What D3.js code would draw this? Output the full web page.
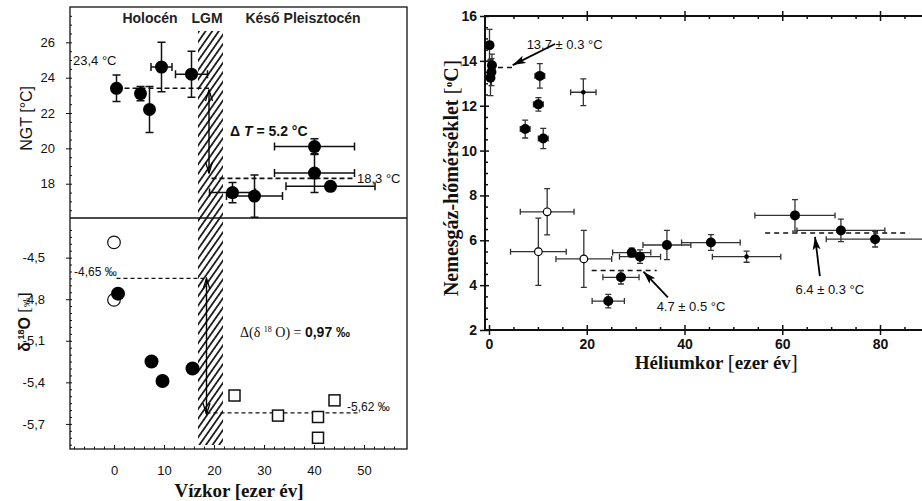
<!DOCTYPE html>
<html>
<head>
<meta charset="utf-8">
<script src="https://cdn.jsdelivr.net/npm/d3@7"></script>
<style>
  body { margin: 0; background: #fff; }
  svg { display: block; }
</style>
</head>
<body>
<svg id="chart" width="922" height="501"></svg>
<script>
// ---- left panel, top: noble gas temperature vs water age
const ngtAge     = [0.5, 5.3, 7.1, 9.5, 15.5, 23.7, 28.1, 40.1, 40.1, 43.3];
const ngtTemp    = [23.4, 23.1, 22.2, 24.6, 24.2, 17.5, 17.3, 20.1, 18.6, 17.85];
const ngtAgeErr  = [0, 0, 0, 2.1, 3.2, 4.6, 5.6, 8, 8, 8.9];
const ngtTempErr = [0.75, 0.4, 1.3, 1.4, 1.3, 0.57, 1.2, 0.45, 1.1, 0.25];
const ngtTicks   = [18, 20, 22, 24, 26];

// ---- left panel, bottom: d18O
const openAge  = [0, 0];
const openD18  = [-4.39, -4.805];
const holoAge  = [0.8, 7.5, 9.7, 15.7];
const holoD18  = [-4.76, -5.25, -5.39, -5.30];
const pleiAge  = [24.1, 32.8, 40.8, 40.8, 44.1];
const pleiD18  = [-5.495, -5.64, -5.65, -5.80, -5.53];
const d18Ticks = [-4.5, -4.8, -5.1, -5.4, -5.7];
const ageTicks = [0, 10, 20, 30, 40, 50];

// ---- right panel: helium age vs noble gas temperature
const heAge     = [0.1, 0.6, 0.5, 0.3, 7.4, 10.1, 10.4, 11.1, 19.3, 11.9, 10.1, 19.4, 24.4, 27.0, 29.2, 30.9, 36.4, 45.4, 52.7, 62.6, 72.0, 79.0];
const heTemp    = [14.7, 13.8, 13.5, 13.25, 10.96, 12.06, 13.33, 10.54, 12.6, 7.27, 5.49, 5.17, 3.29, 4.35, 5.45, 5.27, 5.79, 5.9, 5.27, 7.11, 6.44, 6.05];
const heAgeErr  = [0, 0, 0, 0, 1.0, 1.0, 1.0, 1.0, 2.6, 5.5, 5.7, 5.7, 3.3, 3.7, 3.9, 4.2, 4.9, 6.0, 7.0, 8.2, 9.0, 10.0];
const heTempErr = [0.7, 0.5, 0.6, 0.8, 0.4, 0.3, 0.55, 0.45, 0.6, 1.03, 1.5, 1.27, 0.3, 0.3, 0.2, 0.3, 0.65, 0.35, 0.25, 0.7, 0.5, 0.35];
const heKind    = ["f","f","f","f","f","f","f","f","s","o","o","o","f","f","f","f","f","f","s","f","f","f"];
const heXTicks  = [0, 20, 40, 60, 80];
const heYTicks  = [2, 4, 6, 8, 10, 12, 14, 16];

const sans = "'Liberation Sans', Arial, sans-serif";
const serif = "'Liberation Serif', 'Times New Roman', serif";
const svg = d3.select("#chart");

const defs = svg.append("defs");
defs.append("pattern").attr("id", "hatch")
  .attr("patternUnits", "userSpaceOnUse").attr("width", 5.4).attr("height", 5.4)
  .attr("patternTransform", "rotate(35)")
  .append("line").attr("x1", 2.7).attr("x2", 2.7).attr("y1", 0).attr("y2", 5.4)
  .attr("stroke", "#111").attr("stroke-width", 1.7);
defs.append("marker").attr("id", "openHead")
  .attr("viewBox", "0 -5 12 10").attr("refX", 11).attr("refY", 0)
  .attr("markerWidth", 12).attr("markerHeight", 10).attr("markerUnits", "userSpaceOnUse")
  .attr("orient", "auto-start-reverse")
  .append("path").attr("d", "M0,-3.5L11,0L0,3.5").attr("fill", "none").attr("stroke", "#000").attr("stroke-width", 1.3);
defs.append("marker").attr("id", "solidHead")
  .attr("viewBox", "0 -5 14 10").attr("refX", 13).attr("refY", 0)
  .attr("markerWidth", 14).attr("markerHeight", 10).attr("markerUnits", "userSpaceOnUse")
  .attr("orient", "auto")
  .append("path").attr("d", "M0,-4L13,0L0,4L3,0Z").attr("fill", "#000");

function errorBars(g, xs, ys, xe, ye, x, y, cap, color, w) {
  d3.range(xs.length).forEach(i => {
    if (ye[i] > 0) {
      const y0 = y(ys[i] - ye[i]), y1 = y(ys[i] + ye[i]), cx = x(xs[i]);
      g.append("path").attr("d", `M${cx},${y0}V${y1}M${cx - cap},${y0}H${cx + cap}M${cx - cap},${y1}H${cx + cap}`)
        .attr("stroke", color).attr("stroke-width", w).attr("fill", "none");
    }
    if (xe[i] > 0) {
      const x0 = x(xs[i] - xe[i]), x1 = x(xs[i] + xe[i]), cy = y(ys[i]);
      g.append("path").attr("d", `M${x0},${cy}H${x1}M${x0},${cy - cap}V${cy + cap}M${x1},${cy - cap}V${cy + cap}`)
        .attr("stroke", color).attr("stroke-width", w).attr("fill", "none");
    }
  });
}

// ================= LEFT PANEL =================
const xL = d3.scaleLinear().domain([-8.8, 58.6]).range([70, 407]);
const yT = d3.scaleLinear().domain([16.06, 28.0]).range([218, 7]);
const yB = d3.scaleLinear().domain([-5.881, -4.214]).range([449, 218]);

const left = svg.append("g");

// LGM band
left.append("rect")
  .attr("x", xL(16.8)).attr("width", xL(21.8) - xL(16.8))
  .attr("y", 31).attr("height", 414)
  .attr("fill", "url(#hatch)");

// frame and divider
left.append("rect").attr("x", 70).attr("y", 7).attr("width", 337).attr("height", 442)
  .attr("fill", "none").attr("stroke", "#111").attr("stroke-width", 1.3);
left.append("line").attr("x1", 70).attr("x2", 407).attr("y1", 218).attr("y2", 218)
  .attr("stroke", "#111").attr("stroke-width", 1.3);

// axes
const axT = left.append("g").attr("transform", "translate(70,0)")
  .call(d3.axisLeft(yT).tickValues(ngtTicks).tickSize(4).tickPadding(11).tickFormat(d3.format("d")));
const axTm = left.append("g").attr("transform", "translate(70,0)")
  .call(d3.axisLeft(yT).tickValues(d3.range(16.5, 28, 0.5)).tickSize(-2).tickFormat(""));
const axB = left.append("g").attr("transform", "translate(70,0)")
  .call(d3.axisLeft(yB).tickValues(d18Ticks).tickSize(4).tickPadding(21)
    .tickFormat(d => d.toFixed(1).replace(".", ",")));
const axBm = left.append("g").attr("transform", "translate(70,0)")
  .call(d3.axisLeft(yB).tickValues(d3.range(-5.85, -4.25, 0.05)).tickSize(-2).tickFormat(""));
const axX = left.append("g").attr("transform", "translate(0,449)")
  .call(d3.axisBottom(xL).tickValues(ageTicks).tickSize(-4).tickPadding(17).tickFormat(d3.format("d")));
const axXm = left.append("g").attr("transform", "translate(0,449)")
  .call(d3.axisBottom(xL).tickValues(d3.range(-8, 58, 2)).tickSize(-2.5).tickFormat(""));
[axT, axTm, axB, axBm, axX, axXm].forEach(a => {
  a.select(".domain").remove();
  a.selectAll("line").attr("stroke", "#111");
  a.selectAll("text").attr("font-family", sans).attr("font-size", 13).attr("fill", "#111");
});

// period titles
left.append("g").selectAll("text")
  .data([["Holocén", 7.2], ["LGM", 18.6], ["Késő Pleisztocén", 37.8]])
  .join("text")
  .attr("x", d => xL(d[1])).attr("y", 23).attr("text-anchor", "middle")
  .attr("font-family", sans).attr("font-size", 14).attr("font-weight", "bold").attr("fill", "#222")
  .text(d => d[0]);

// y labels
left.append("text").attr("transform", `translate(32,${yT(21.7)}) rotate(-90)`)
  .attr("text-anchor", "middle").attr("font-family", sans).attr("font-size", 16).attr("fill", "#111")
  .text("NGT [°C]");
const dl = left.append("text").attr("transform", "translate(30,322) rotate(-90)")
  .attr("text-anchor", "middle").attr("font-family", sans).attr("font-size", 16).attr("font-weight", "bold").attr("fill", "#111");
dl.append("tspan").text("δ");
dl.append("tspan").attr("font-size", 9).attr("dy", -6).text(" 18");
dl.append("tspan").attr("dy", 6).text("O ");
dl.append("tspan").attr("font-family", serif).attr("font-weight", "normal").attr("font-size", 17).text("[");
dl.append("tspan").attr("font-weight", "normal").attr("font-size", 9).text("‰");
dl.append("tspan").attr("font-family", serif).attr("font-weight", "normal").attr("font-size", 17).text("]");

// x label
left.append("text").attr("x", xL(25)).attr("y", 497).attr("text-anchor", "middle")
  .attr("font-family", serif).attr("font-size", 19).attr("font-weight", "bold").attr("fill", "#111")
  .text("Vízkor [ezer év]");

// NGT mean lines, arrows, labels
const dash = "5,3";
left.append("line").attr("x1", xL(0.5)).attr("x2", xL(19)).attr("y1", yT(23.4)).attr("y2", yT(23.4))
  .attr("stroke", "#111").attr("stroke-width", 1.6).attr("stroke-dasharray", dash);
left.append("line").attr("x1", xL(19.5)).attr("x2", xL(47.8)).attr("y1", yT(18.3)).attr("y2", yT(18.3))
  .attr("stroke", "#111").attr("stroke-width", 1.6).attr("stroke-dasharray", dash);
left.append("line").attr("x1", xL(19)).attr("x2", xL(19)).attr("y1", yT(23.3)).attr("y2", yT(18.6))
  .attr("stroke", "#000").attr("stroke-width", 1.4)
  .attr("marker-start", "url(#openHead)").attr("marker-end", "url(#openHead)");
left.append("text").attr("x", 73).attr("y", yT(24.7)).attr("font-family", sans).attr("font-size", 13).attr("fill", "#111").text("23,4 °C");
left.append("text").attr("x", xL(48.6)).attr("y", yT(18.05)).attr("font-family", sans).attr("font-size", 13).attr("fill", "#111").text("18,3 °C");
const dt = left.append("text").attr("x", xL(23.2)).attr("y", yT(20.7)).attr("font-family", sans).attr("font-size", 14).attr("font-weight", "bold").attr("fill", "#111");
dt.append("tspan").text("Δ ");
dt.append("tspan").attr("font-style", "italic").text("T");
dt.append("tspan").text(" = 5.2 °C");

// d18O mean lines, arrows, labels
left.append("line").attr("x1", xL(0.5)).attr("x2", xL(18)).attr("y1", yB(-4.65)).attr("y2", yB(-4.65))
  .attr("stroke", "#111").attr("stroke-width", 1.1).attr("stroke-dasharray", "4,3");
left.append("line").attr("x1", xL(18.5)).attr("x2", xL(48.7)).attr("y1", yB(-5.62)).attr("y2", yB(-5.62))
  .attr("stroke", "#111").attr("stroke-width", 1.1).attr("stroke-dasharray", "4,3");
left.append("line").attr("x1", xL(18.5)).attr("x2", xL(18.5)).attr("y1", yB(-4.65)).attr("y2", yB(-5.63))
  .attr("stroke", "#000").attr("stroke-width", 1.4)
  .attr("marker-start", "url(#openHead)").attr("marker-end", "url(#openHead)");
left.append("text").attr("x", 74).attr("y", yB(-4.632)).attr("font-family", sans).attr("font-size", 12).attr("fill", "#111").text("-4,65 ‰");
left.append("text").attr("x", xL(46.6)).attr("y", yB(-5.605)).attr("font-family", sans).attr("font-size", 12).attr("fill", "#111").text("-5,62 ‰");
const dd = left.append("text").attr("x", xL(25.2)).attr("y", yB(-5.075)).attr("fill", "#111");
dd.append("tspan").attr("font-family", serif).attr("font-size", 14).text("Δ(δ ");
dd.append("tspan").attr("font-family", serif).attr("font-size", 8).attr("dy", -5).text("18");
dd.append("tspan").attr("font-family", serif).attr("font-size", 14).attr("dy", 5).text(" O) = ");
dd.append("tspan").attr("font-family", sans).attr("font-size", 14).attr("font-weight", "bold").text("0,97 ‰");

// NGT points
const gT = left.append("g");
errorBars(gT, ngtAge, ngtTemp, ngtAgeErr, ngtTempErr, xL, yT, 4, "#111", 1.5);
gT.selectAll("circle").data(d3.range(ngtAge.length)).join("circle")
  .attr("cx", i => xL(ngtAge[i])).attr("cy", i => yT(ngtTemp[i])).attr("r", 6.5).attr("fill", "#000");

// d18O points
const gB = left.append("g");
gB.selectAll("circle.open").data(d3.range(openAge.length)).join("circle").attr("class", "open")
  .attr("cx", i => xL(openAge[i])).attr("cy", i => yB(openD18[i])).attr("r", 6.3)
  .attr("fill", "#fff").attr("stroke", "#111").attr("stroke-width", 1.2);
gB.selectAll("circle.holo").data(d3.range(holoAge.length)).join("circle").attr("class", "holo")
  .attr("cx", i => xL(holoAge[i])).attr("cy", i => yB(holoD18[i])).attr("r", 7).attr("fill", "#000");
gB.selectAll("rect").data(d3.range(pleiAge.length)).join("rect")
  .attr("x", i => xL(pleiAge[i]) - 5.5).attr("y", i => yB(pleiD18[i]) - 5.5)
  .attr("width", 11).attr("height", 11)
  .attr("fill", "#fff").attr("stroke", "#111").attr("stroke-width", 1.5);

// ================= RIGHT PANEL =================
const xR = d3.scaleLinear().domain([-0.82, 100]).range([485, 485 + 100.82 * 4.8875]);
const yR = d3.scaleLinear().domain([2, 16]).range([330, 16]);
const right = svg.append("g");

// frame lines
right.append("path").attr("d", `M922,16H485V330H922`).attr("fill", "none").attr("stroke", "#111").attr("stroke-width", 2);

// ticks crossing the axes
const minorX = d3.range(5, 100, 5).filter(v => v % 20);
const rxMaj = right.append("g").attr("transform", "translate(0,330)")
  .call(d3.axisBottom(xR).tickValues(heXTicks).tickSize(5).tickPadding(4).tickFormat(d3.format("d")));
const rxMaj2 = right.append("g").attr("transform", "translate(0,330)")
  .call(d3.axisBottom(xR).tickValues(heXTicks).tickSize(-5).tickFormat(""));
const rxMin = right.append("g").attr("transform", "translate(0,330)")
  .call(d3.axisBottom(xR).tickValues(minorX).tickSize(-3).tickFormat(""));
const rtMaj = right.append("g").attr("transform", "translate(0,16)")
  .call(d3.axisTop(xR).tickValues(heXTicks.slice(1)).tickSize(5).tickFormat(""));
const rtMaj2 = right.append("g").attr("transform", "translate(0,16)")
  .call(d3.axisTop(xR).tickValues(heXTicks.slice(1)).tickSize(-5).tickFormat(""));
const rtMin = right.append("g").attr("transform", "translate(0,16)")
  .call(d3.axisTop(xR).tickValues(minorX).tickSize(-3).tickFormat(""));
const ryMaj = right.append("g").attr("transform", "translate(485,0)")
  .call(d3.axisLeft(yR).tickValues(heYTicks).tickSize(5).tickPadding(3).tickFormat(d3.format("d")));
const ryMaj2 = right.append("g").attr("transform", "translate(485,0)")
  .call(d3.axisLeft(yR).tickValues(heYTicks).tickSize(-4).tickFormat(""));
const ryMin = right.append("g").attr("transform", "translate(485,0)")
  .call(d3.axisLeft(yR).tickValues(d3.range(2.5, 16, 0.5).filter(v => v % 2)).tickSize(-3).tickFormat(""));
[rxMaj, rxMaj2, rxMin, rtMaj, rtMaj2, rtMin, ryMaj, ryMaj2, ryMin].forEach(a => {
  a.select(".domain").remove();
  a.selectAll("line").attr("stroke", "#111").attr("stroke-width", 1.5);
  a.selectAll("text").attr("font-family", sans).attr("font-size", 14).attr("font-weight", "bold").attr("fill", "#111");
});

// axis titles
const ry = right.append("text").attr("transform", "translate(458,178) rotate(-90)")
  .attr("text-anchor", "middle").attr("font-family", serif).attr("font-size", 20).attr("font-weight", "bold").attr("fill", "#111");
ry.append("tspan").text("Nemesgáz-hőmérséklet ");
ry.append("tspan").attr("font-weight", "normal").attr("font-size", 22).text("[");
ry.append("tspan").attr("font-size", 11).attr("dy", -6).text("o");
ry.append("tspan").attr("dy", 6).text("C");
ry.append("tspan").attr("font-weight", "normal").attr("font-size", 22).text("]");
const rx = right.append("text").attr("x", xR(46.5)).attr("y", 369).attr("text-anchor", "middle")
  .attr("font-family", serif).attr("font-size", 19).attr("font-weight", "bold").attr("fill", "#111");
rx.append("tspan").text("Héliumkor ");
rx.append("tspan").attr("font-weight", "normal").attr("font-size", 21).text("[");
rx.append("tspan").text("ezer év");
rx.append("tspan").attr("font-weight", "normal").attr("font-size", 21).text("]");

// mean lines
const means = [[0, 5.4, 13.7], [21, 34.3, 4.65], [56.5, 86, 6.33]];
right.append("g").selectAll("line").data(means).join("line")
  .attr("x1", d => xR(d[0])).attr("x2", d => xR(d[1]))
  .attr("y1", d => yR(d[2])).attr("y2", d => yR(d[2]))
  .attr("stroke", "#111").attr("stroke-width", 1.5).attr("stroke-dasharray", "5,4");

// annotation arrows and text
const notes = [
  { x0: 13.5, y0: 14.75, x1: 4.85, y1: 13.81, tx: 7.7, ty: 14.55, t: "13.7 ± 0.3 °C" },
  { x0: 36.6, y0: 3.45, x1: 31.6, y1: 4.6, tx: 34.3, ty: 2.85, t: "4.7 ± 0.5 °C" },
  { x0: 67.7, y0: 4.4, x1: 66.7, y1: 6.15, tx: 62.7, ty: 3.6, t: "6.4 ± 0.3 °C" }
];
right.append("g").selectAll("line").data(notes).join("line")
  .attr("x1", d => xR(d.x0)).attr("y1", d => yR(d.y0))
  .attr("x2", d => xR(d.x1)).attr("y2", d => yR(d.y1))
  .attr("stroke", "#000").attr("stroke-width", 1.8).attr("marker-end", "url(#solidHead)");
right.append("g").selectAll("text").data(notes).join("text")
  .attr("x", d => xR(d.tx)).attr("y", d => yR(d.ty))
  .attr("font-family", sans).attr("font-size", 13).attr("fill", "#111").text(d => d.t);

// points
const gR = right.append("g");
errorBars(gR, heAge, heTemp, heAgeErr, heTempErr, xR, yR, 3, "#333", 1.3);
gR.selectAll("circle").data(d3.range(heAge.length)).join("circle")
  .attr("cx", i => xR(heAge[i])).attr("cy", i => yR(heTemp[i]))
  .attr("r", i => heKind[i] === "f" ? 5 : heKind[i] === "o" ? 3.8 : 2.3)
  .attr("fill", i => heKind[i] === "o" ? "#fff" : "#000")
  .attr("stroke", "#000").attr("stroke-width", i => heKind[i] === "o" ? 1.2 : 0);
</script>
</body>
</html>
